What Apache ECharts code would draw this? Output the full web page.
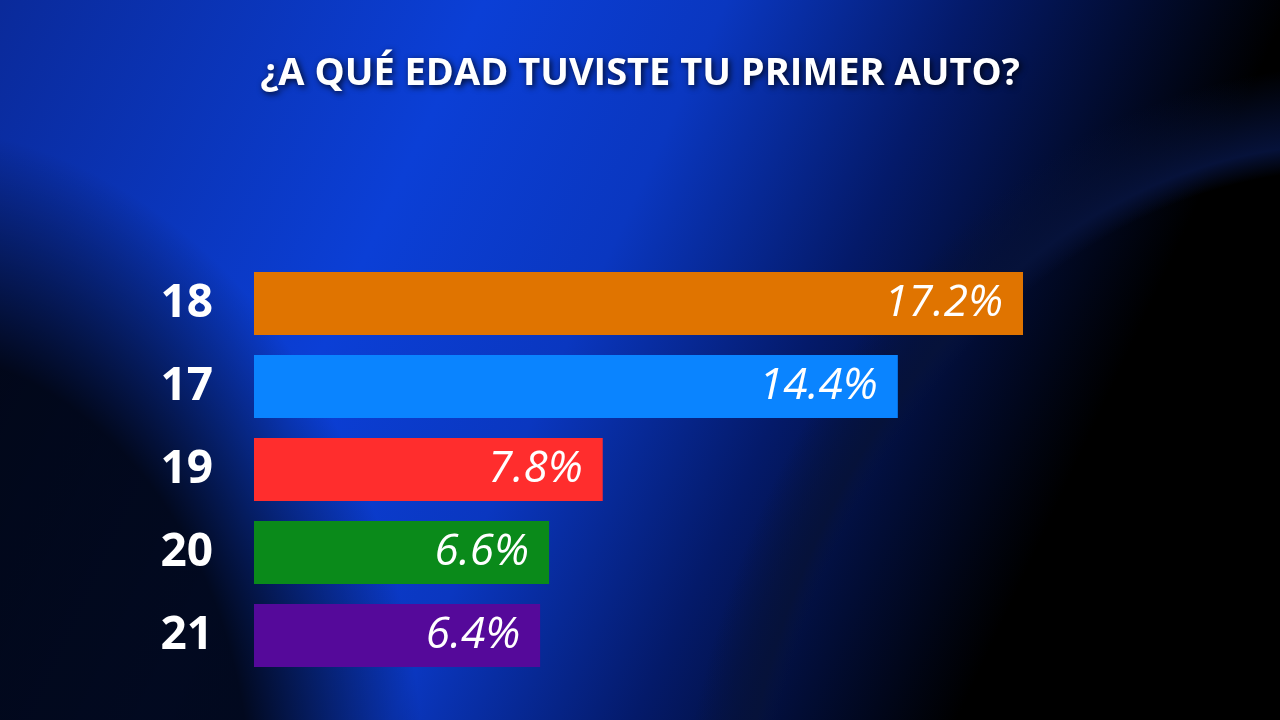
<!DOCTYPE html>
<html><head><meta charset="utf-8">
<script src="https://cdn.jsdelivr.net/npm/echarts@6/dist/echarts.min.js"></script>
<style>
html,body{margin:0;padding:0;}
#c{width:1280px;height:720px;
background:
 radial-gradient(ellipse 900px 1200px at 1500px 900px, #000 0 55%, rgba(0,0,0,0) 58%),
 radial-gradient(ellipse 1000px 1300px at 1350px 950px, rgba(0,30,140,0) 0 60%, #06123a 62%, rgba(0,0,0,0) 68%),
 radial-gradient(ellipse 700px 900px at -100px 800px, rgba(0,0,0,0.85) 0 50%, rgba(0,0,0,0) 75%),
 linear-gradient(115deg, #0a2a9a 0%, #0b3fd6 30%, #0a37c0 45%, #041a6a 60%, #000 80%);}
</style></head>
<body><div id="c"></div>
<script>
const ages = ['18', '17', '19', '20', '21'];
const shares = [17.2, 14.4, 7.8, 6.6, 6.4];
const barColors = ['#e07400', '#0a84ff', '#ff2d2d', '#0a8a1a', '#55099a'];

const chart = echarts.init(document.getElementById('c'));
chart.setOption({
  animation: false,
  title: {
    text: '¿A QUÉ EDAD TUVISTE TU PRIMER AUTO?',
    left: 'center', top: 50,
    textStyle: {color: '#fff', fontSize: 38, fontWeight: 'bold', fontFamily: 'Open Sans',
      textShadowColor: 'rgba(0,0,0,0.8)', textShadowBlur: 6, textShadowOffsetX: 2, textShadowOffsetY: 2}
  },
  grid: {left: 254, right: 10, top: 262, bottom: 43},
  xAxis: {type: 'value', min: 0, max: 17.2 * 1016 / 769, show: false},
  yAxis: {
    type: 'category', data: ages, inverse: true,
    axisLine: {show: false}, axisTick: {show: false},
    axisLabel: {color: '#fff', fontSize: 46, fontWeight: 'bold', fontFamily: 'Open Sans', margin: 41}
  },
  series: [{
    type: 'bar', barWidth: 63,
    data: shares.map((v, i) => ({value: v, itemStyle: {color: barColors[i]}})),
    label: {
      show: true, position: 'insideRight', distance: 20,
      formatter: p => p.value.toFixed(1) + '%',
      color: '#fff', fontSize: 44, fontStyle: 'italic', fontFamily: 'Open Sans'
    }
  }]
});
</script></body></html>
